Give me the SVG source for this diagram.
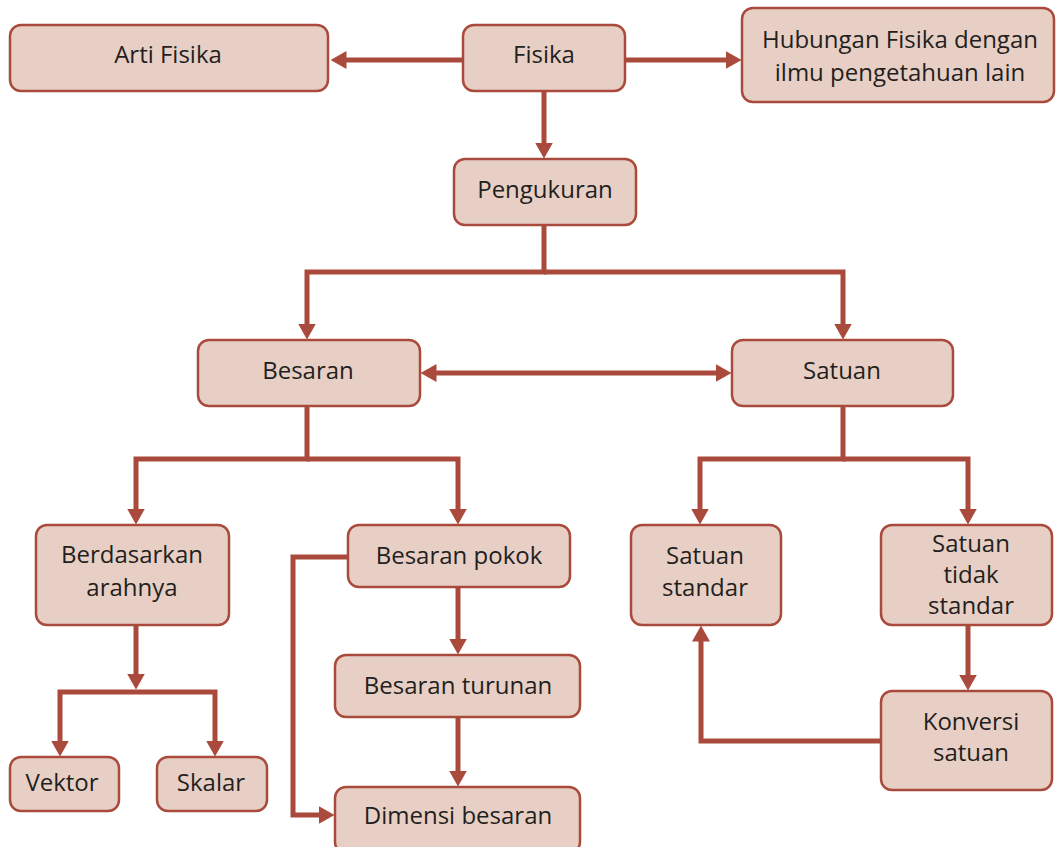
<svg xmlns="http://www.w3.org/2000/svg" width="1056" height="847" viewBox="0 0 1056 847">
<style>
.n rect{fill:#E8CFC5;stroke:#A94A3C;stroke-width:2.5}
.n text{font-family:"Open Sans","Liberation Sans",sans-serif;font-size:24px;fill:#231F20;text-anchor:middle}
.c path{fill:none;stroke:#A94A3C;stroke-width:5;stroke-linejoin:miter}
.a{marker-end:url(#ah)}
</style>
<defs>
<marker id="ah" viewBox="0 0 16 18" refX="0.5" refY="9" markerWidth="16" markerHeight="18" markerUnits="userSpaceOnUse" orient="auto-start-reverse">
<path d="M0,0 L16,9 L0,18 Z" fill="#A94A3C"/>
</marker>
</defs>
<rect width="1056" height="847" fill="#fff"/>
<g class="c" id="connectors">
<path class="a" d="M463,60 H346"/>
<path class="a" d="M625,60 H726"/>
<path class="a" d="M544,91 V143"/>
<path class="a" d="M544,225 V272 H307 V324"/>
<path class="a" d="M544,272 H843 V324"/>
<path class="a" style="marker-start:url(#ah)" d="M436,373 H716"/>
<path class="a" d="M307,406 V459 H136 V509"/>
<path class="a" d="M307,459 H458 V509"/>
<path class="a" d="M843,406 V459 H700 V509"/>
<path class="a" d="M843,459 H968 V509"/>
<path class="a" d="M136,625 V674"/>
<path class="a" d="M136,692 H60 V741"/>
<path class="a" d="M136,692 H215 V741"/>
<path class="a" d="M348,557 H293 V815 H319"/>
<path class="a" d="M458,587 V639"/>
<path class="a" d="M458,717 V771"/>
<path class="a" d="M968,625 V675"/>
<path class="a" d="M881,741 H701 V641"/>
</g>
<g class="n" id="arti-fisika"><rect x="10" y="25" width="318" height="66" rx="11"/><text x="168" y="63">Arti Fisika</text></g>
<g class="n" id="fisika"><rect x="463" y="25" width="162" height="66" rx="11"/><text x="544" y="63">Fisika</text></g>
<g class="n" id="hubungan"><rect x="742" y="8" width="312" height="94" rx="11"/><text x="900" y="48">Hubungan Fisika dengan</text><text x="900" y="81">ilmu pengetahuan lain</text></g>
<g class="n" id="pengukuran"><rect x="454" y="159" width="182" height="66" rx="11"/><text x="545" y="198">Pengukuran</text></g>
<g class="n" id="besaran"><rect x="198" y="340" width="222" height="66" rx="11"/><text x="308" y="379">Besaran</text></g>
<g class="n" id="satuan"><rect x="732" y="340" width="221" height="66" rx="11"/><text x="842" y="379">Satuan</text></g>
<g class="n" id="berdasarkan"><rect x="36" y="525" width="193" height="100" rx="11"/><text x="132" y="563">Berdasarkan</text><text x="132" y="596">arahnya</text></g>
<g class="n" id="besaran-pokok"><rect x="348" y="525" width="222" height="62" rx="11"/><text x="459" y="564">Besaran pokok</text></g>
<g class="n" id="satuan-standar"><rect x="631" y="525" width="150" height="100" rx="11"/><text x="705" y="564">Satuan</text><text x="705" y="596">standar</text></g>
<g class="n" id="satuan-tidak-standar"><rect x="881" y="525" width="171" height="100" rx="11"/><text x="971" y="552">Satuan</text><text x="971" y="583">tidak</text><text x="971" y="614">standar</text></g>
<g class="n" id="besaran-turunan"><rect x="335" y="655" width="245" height="62" rx="11"/><text x="458" y="694">Besaran turunan</text></g>
<g class="n" id="konversi"><rect x="881" y="691" width="171" height="99" rx="11"/><text x="971" y="730">Konversi</text><text x="971" y="761">satuan</text></g>
<g class="n" id="vektor"><rect x="10" y="757" width="109" height="54" rx="11"/><text x="62" y="791">Vektor</text></g>
<g class="n" id="skalar"><rect x="157" y="757" width="110" height="54" rx="11"/><text x="211" y="791">Skalar</text></g>
<g class="n" id="dimensi"><rect x="335" y="787" width="245" height="66" rx="11"/><text x="458" y="824">Dimensi besaran</text></g>
</svg>
